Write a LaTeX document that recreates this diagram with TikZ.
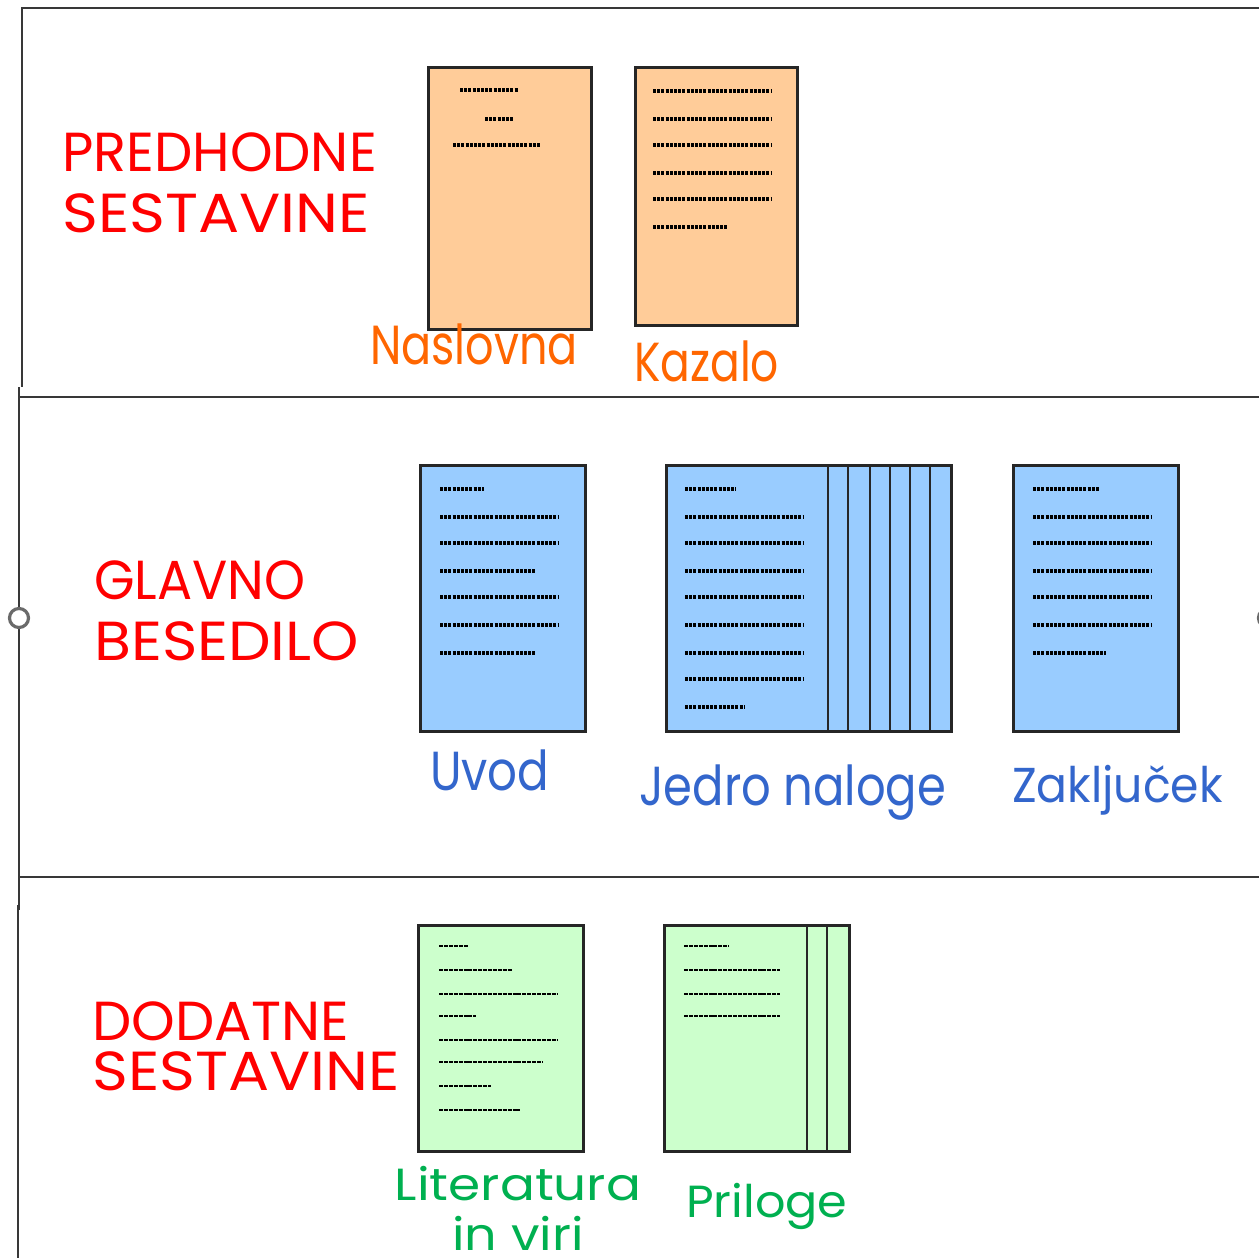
\documentclass[tikz,border=0pt]{standalone}
\usepackage{graphicx}
\usepackage{fontspec}
\setmainfont{Poppins}
\definecolor{peach}{HTML}{FFCC99}
\definecolor{docblue}{HTML}{99CCFF}
\definecolor{docgreen}{HTML}{CCFFCC}
\definecolor{framegray}{HTML}{383838}
\definecolor{handlegray}{HTML}{6A6A6A}
\definecolor{txtred}{HTML}{FF0000}
\definecolor{txtorange}{HTML}{FF6600}
\definecolor{txtblue}{HTML}{3366CC}
\definecolor{txtgreen}{HTML}{00B050}
\newcommand{\sx}[2]{\scalebox{#1}[1]{#2}}
\begin{document}
\begin{tikzpicture}[x=1pt,y=-1pt,
  frame/.style={draw=framegray, line width=2.8pt},
  docbox/.style={draw=black!85, line width=2.6pt, inner sep=0pt, anchor=north west},
  sepline/.style={line width=2.4pt, black!85},
  thickdash/.style={line width=3.2pt, dash pattern=on 3pt off 1.2pt},
  thindash/.style={line width=1.4pt, dash pattern=on 4pt off 0.9pt},
  head/.style={text=txtred, font=\fontsize{55}{60.5}\selectfont, align=left, anchor=north west, inner sep=0pt},
  lab/.style={font=\fontsize{55}{60}\selectfont, anchor=base west, inner sep=0pt},
  handle/.style={circle, draw=handlegray, fill=white, line width=3.2pt, minimum size=19pt, inner sep=0pt}
]
\useasboundingbox (0,0) rectangle (1259,1258);
\fill[white] (0,0) rectangle (1259,1258);

% panel frames
\draw[frame] (1265,8) -- (22,8) -- (22,387);
\draw[frame] (19,387) -- (19,910);
\draw[frame] (19,397) -- (1265,397);
\draw[frame] (18,877) -- (1265,877);
\draw[frame] (18,905) -- (18,1265);
\node[handle] (hl) at (19,618) {};
\node[handle] (hr) at (1268,618) {};

% headings
\node[head] (h1) at (62,133) {\sx{0.985}{PREDHODNE}\\\sx{1.11}{SESTAVINE}};
\node[head, font=\fontsize{55}{61}\selectfont] (h2) at (94,561) {\sx{0.948}{GLAVNO}\\\sx{1.095}{BESEDILO}};
\node[head, font=\fontsize{55}{50}\selectfont] (h3) at (92,1002) {\sx{1.01}{DODATNE}\\\sx{1.11}{SESTAVINE}};

% row 1 documents
\node[docbox, fill=peach, minimum width=163pt, minimum height=262pt] (nasl) at (427,66) {};
\draw[thickdash] (460,90) -- (518,90);
\draw[thickdash] (485,119) -- (514,119);
\draw[thickdash] (453,145) -- (541,145);
\node[docbox, fill=peach, minimum width=162pt, minimum height=258pt] (kaz) at (634,66) {};
\foreach \yy in {91,119,145,173,199} \draw[thickdash] (653,\yy) -- (771,\yy);
\draw[thickdash] (653,227) -- (727,227);
\node[lab, text=txtorange] (lnasl) at (370,364) {\sx{0.81}{Naslovna}};
\node[lab, text=txtorange] (lkaz) at (634,381) {\sx{0.80}{Kazalo}};

% row 2 documents
\node[docbox, fill=docblue, minimum width=165pt, minimum height=266pt] (uvod) at (419,464) {};
\foreach \yy/\xe in {489/484,517/558,543/558,571/536,597/558,625/558,653/536}
  \draw[thickdash] (440,\yy) -- (\xe,\yy);
\node[docbox, fill=docblue, minimum width=285pt, minimum height=266pt] (jedro) at (665,464) {};
\foreach \xx in {828,848,870,890,910,930} \draw[sepline] (\xx,464) -- (\xx,730);
\foreach \yy/\xe in {489/736,517/803,543/803,571/803,597/803,625/803,653/803,679/803,707/744}
  \draw[thickdash] (685,\yy) -- (\xe,\yy);
\node[docbox, fill=docblue, minimum width=165pt, minimum height=266pt] (zak) at (1012,464) {};
\foreach \yy/\xe in {489/1099,517/1151,543/1151,571/1151,597/1151,625/1151,653/1106}
  \draw[thickdash] (1033,\yy) -- (\xe,\yy);
\node[lab, text=txtblue] (luvod) at (430,790) {\sx{0.85}{Uvod}};
\node[lab, text=txtblue] (ljedro) at (639,805) {\sx{0.845}{Jedro naloge}};
\node[lab, text=txtblue, font=\fontsize{49}{55}\selectfont] (lzak) at (1012,802) {\sx{0.933}{Zaključek}};

% row 3 documents
\node[docbox, fill=docgreen, minimum width=165pt, minimum height=226pt] (lit) at (417,924) {};
\foreach \yy/\xe in {946/468,970/512,994/557,1016/476,1040/557,1062/542,1086/491,1110/520}
  \draw[thindash] (439,\yy) -- (\xe,\yy);
\node[docbox, fill=docgreen, minimum width=185pt, minimum height=226pt] (pril) at (663,924) {};
\foreach \xx in {807,827} \draw[sepline] (\xx,924) -- (\xx,1150);
\foreach \yy/\xe in {946/729,970/780,994/780,1016/780}
  \draw[thindash] (684,\yy) -- (\xe,\yy);
\node[text=txtgreen, font=\fontsize{45}{50}\selectfont, align=center, inner sep=0pt, anchor=base] (llit) at (518,1250) {\sx{1.15}{Literatura}\\\sx{1.13}{in viri}};
\node[lab, text=txtgreen, font=\fontsize{45}{51}\selectfont] (lpril) at (686,1217) {\sx{1.06}{Priloge}};
\end{tikzpicture}
\end{document}
